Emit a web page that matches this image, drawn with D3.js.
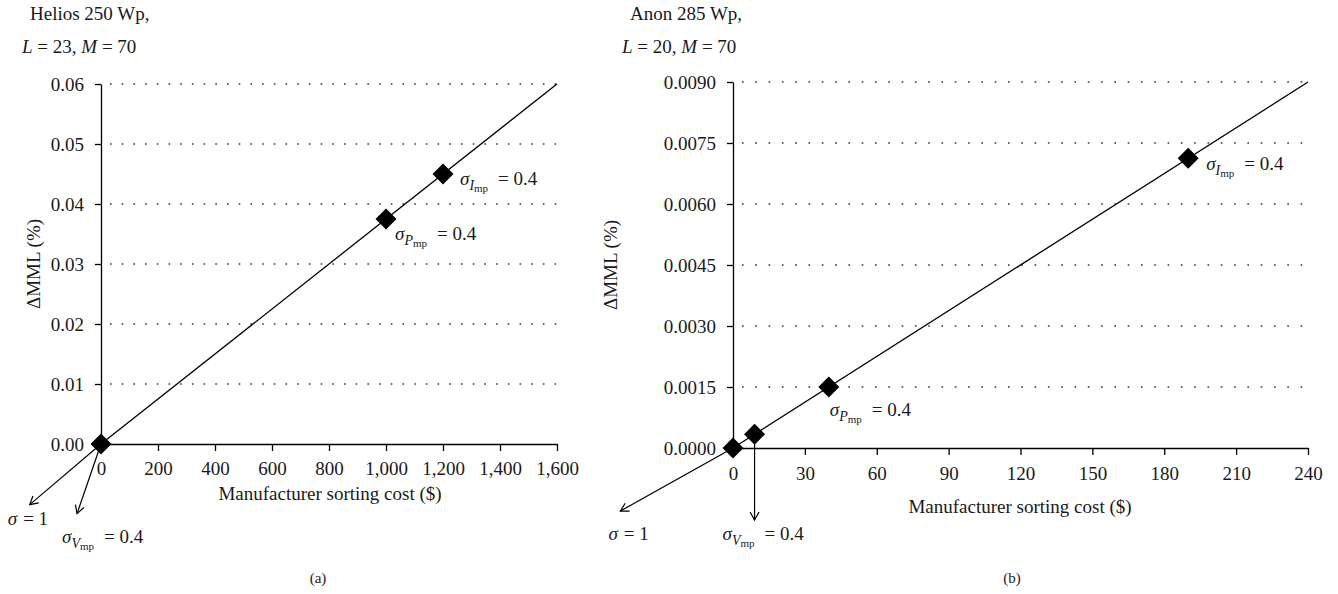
<!DOCTYPE html>
<html><head><meta charset="utf-8">
<script src="https://cdn.jsdelivr.net/npm/d3@7"></script>
<style>
body{margin:0;background:#fff}
svg{display:block}
text{font-family:"Liberation Serif","Times New Roman",serif;fill:#1a1a1a}
</style>
</head><body>
<svg id="c" width="1338" height="594"></svg>
<script>
// ---------- data ----------
const panelTitles = ["Helios 250 Wp,", "Anon 285 Wp,"];
const panelL = [23, 20];
const panelM = [70, 70];
const panelTags = ["(a)", "(b)"];
const xAxisTitle = "Manufacturer sorting cost ($)";
const yAxisTitle = "ΔMML (%)";

const xTicksA = [0, 200, 400, 600, 800, 1000, 1200, 1400, 1600];
const yTicksA = [0, 0.01, 0.02, 0.03, 0.04, 0.05, 0.06];
const xTicksB = [0, 30, 60, 90, 120, 150, 180, 210, 240];
const yTicksB = [0, 0.0015, 0.003, 0.0045, 0.006, 0.0075, 0.009];

const costA = [0, 1000, 1200];
const mmlA = [0, 0.0375, 0.045];
const costB = [0, 9, 40, 190];
const mmlB = [0, 0.0003375, 0.0015, 0.007125];

const lineCostA = [0, 1600];
const lineMmlA = [0, 0.06];
const lineCostB = [0, 240];
const lineMmlB = [0, 0.009];

// arrows start at a point index and end at a tip
const arrowFromA = [0, 0];
const arrowTipCostA = [-250, -84];
const arrowTipMmlA = [-0.0101, -0.0116];
const arrowSubA = [null, "V"];
const arrowValA = ["1", "0.4"];

const arrowFromB = [0, 1];
const arrowTipCostB = [-47, 9];
const arrowTipMmlB = [-0.00155, -0.00177];
const arrowSubB = [null, "V"];
const arrowValB = ["1", "0.4"];

// point annotations
const annotPointA = [2, 1];
const annotSubA = ["I", "P"];
const annotValA = ["0.4", "0.4"];
const annotPointB = [3, 2];
const annotSubB = ["I", "P"];
const annotValB = ["0.4", "0.4"];

// ---------- drawing ----------
const svg = d3.select("#c");
const defs = svg.append("defs");
defs.append("marker").attr("id", "arr")
  .attr("viewBox", "-10 -6 12 12").attr("refX", 0).attr("refY", 0)
  .attr("markerWidth", 12).attr("markerHeight", 12)
  .attr("markerUnits", "userSpaceOnUse").attr("orient", "auto")
  .append("path").attr("d", "M-8,-4.5 L0,0 L-8,4.5")
  .attr("fill", "none").attr("stroke", "#000").attr("stroke-width", 1.2);

function sigmaLabel(g, x, y, sub, val) {
  const t = g.append("text").attr("x", x).attr("y", y).attr("font-size", 19);
  t.append("tspan").attr("font-style", "italic").text("σ");
  if (sub) {
    t.append("tspan").attr("font-style", "italic").attr("font-size", 14).attr("dy", 5).text(sub);
    t.append("tspan").attr("font-size", 11).attr("dy", 2).text("mp");
    t.append("tspan").attr("dy", -7).attr("dx", 10).text("= " + val);
  } else {
    t.append("tspan").attr("dx", 6).text("= " + val);
  }
}

function panel(cfg) {
  const g = svg.append("g");
  const x = d3.scaleLinear().domain(cfg.xDomain).range(cfg.xRange);
  const y = d3.scaleLinear().domain(cfg.yDomain).range(cfg.yRange);

  // gridlines
  g.append("g").selectAll("line").data(cfg.yTicks.filter(d => d > 0)).join("line")
    .attr("x1", cfg.xRange[0] + 9).attr("x2", cfg.xRange[1])
    .attr("y1", d => y(d)).attr("y2", d => y(d))
    .attr("stroke", "#333").attr("stroke-width", 1.4)
    .attr("stroke-dasharray", cfg.dash);

  // axes
  const ya = g.append("g").attr("transform", `translate(${cfg.xRange[0]},0)`)
    .call(d3.axisLeft(y).tickValues(cfg.yTicks).tickFormat(cfg.yFmt)
      .tickSize(6).tickSizeOuter(0).tickPadding(cfg.yPad));
  const xa = g.append("g").attr("transform", `translate(0,${cfg.yRange[0]})`)
    .call(d3.axisBottom(x).tickValues(cfg.xTicks).tickFormat(d3.format(","))
      .tickSize(7).tickSizeOuter(0).tickPadding(cfg.xPad));
  [ya, xa].forEach(a => {
    a.attr("font-family", null).attr("font-size", null);
    a.selectAll("path,line").attr("stroke", "#000").attr("stroke-width", 1.3);
    a.selectAll("text").attr("font-size", 19).attr("fill", "#1a1a1a");
  });

  // main line
  g.append("path")
    .datum(cfg.lineCost.map((c, i) => [c, cfg.lineMml[i]]))
    .attr("d", d3.line().x(d => x(d[0])).y(d => y(d[1])))
    .attr("stroke", "#000").attr("stroke-width", 1.3).attr("fill", "none");

  // arrows
  cfg.arrowFrom.forEach((pi, i) => {
    g.append("line")
      .attr("x1", x(cfg.cost[pi])).attr("y1", y(cfg.mml[pi]))
      .attr("x2", x(cfg.arrowTipCost[i])).attr("y2", y(cfg.arrowTipMml[i]))
      .attr("stroke", "#000").attr("stroke-width", 1.2).attr("marker-end", "url(#arr)");
    const off = cfg.arrowLabelOff[i];
    sigmaLabel(g, x(cfg.arrowTipCost[i]) + off[0], y(cfg.arrowTipMml[i]) + off[1], cfg.arrowSub[i], cfg.arrowVal[i]);
  });

  // diamonds
  g.append("g").selectAll("path").data(cfg.cost.map((c, i) => [c, cfg.mml[i]])).join("path")
    .attr("transform", d => `translate(${x(d[0])},${y(d[1])})`)
    .attr("d", "M0,-10.5 L10.5,0 L0,10.5 L-10.5,0 Z")
    .attr("fill", "#000");

  // annotations
  cfg.annotPoint.forEach((pi, i) => {
    const off = cfg.annotOff[i];
    sigmaLabel(g, x(cfg.cost[pi]) + off[0], y(cfg.mml[pi]) + off[1], cfg.annotSub[i], cfg.annotVal[i]);
  });

  // titles
  g.append("text").attr("x", cfg.titleX).attr("y", 20).attr("font-size", 19).text(cfg.title);
  const t2 = g.append("text").attr("x", cfg.title2X).attr("y", 53).attr("font-size", 19);
  t2.append("tspan").attr("font-style", "italic").text("L");
  t2.append("tspan").text(" = " + cfg.L + ", ");
  t2.append("tspan").attr("font-style", "italic").text("M");
  t2.append("tspan").text(" = " + cfg.M);

  g.append("text").attr("x", cfg.xTitleX).attr("y", cfg.xTitleY).attr("text-anchor", "middle")
    .attr("font-size", 19).text(xAxisTitle);
  g.append("text").attr("transform", `translate(${cfg.yTitleX},${cfg.yTitleY}) rotate(-90)`)
    .attr("text-anchor", "middle").attr("font-size", 19).text(yAxisTitle);
  g.append("text").attr("x", cfg.tagX).attr("y", 583).attr("text-anchor", "middle")
    .attr("font-size", 15).text(cfg.tag);
}

panel({
  xDomain: [0, 1600], xRange: [101, 557], yDomain: [0, 0.06], yRange: [444, 84],
  xTicks: xTicksA, yTicks: yTicksA, yFmt: d3.format(".2f"), yPad: 11, xPad: 11,
  dash: "1.6,10.1",
  cost: costA, mml: mmlA, lineCost: lineCostA, lineMml: lineMmlA,
  arrowFrom: arrowFromA, arrowTipCost: arrowTipCostA, arrowTipMml: arrowTipMmlA,
  arrowSub: arrowSubA, arrowVal: arrowValA, arrowLabelOff: [[-22, 20], [-15, 29]],
  annotPoint: annotPointA, annotSub: annotSubA, annotVal: annotValA,
  annotOff: [[17, 11], [9, 21]],
  title: panelTitles[0], titleX: 30, title2X: 22, L: panelL[0], M: panelM[0],
  xTitleX: 330, xTitleY: 500, yTitleX: 40, yTitleY: 264, tag: panelTags[0], tagX: 318
});

panel({
  xDomain: [0, 240], xRange: [733, 1308], yDomain: [0, 0.009], yRange: [448, 82],
  xTicks: xTicksB, yTicks: yTicksB, yFmt: d3.format(".4f"), yPad: 11, xPad: 12,
  dash: "1.6,11.7",
  cost: costB, mml: mmlB, lineCost: lineCostB, lineMml: lineMmlB,
  arrowFrom: arrowFromB, arrowTipCost: arrowTipCostB, arrowTipMml: arrowTipMmlB,
  arrowSub: arrowSubB, arrowVal: arrowValB, arrowLabelOff: [[-12, 29], [-32, 20]],
  annotPoint: annotPointB, annotSub: annotSubB, annotVal: annotValB,
  annotOff: [[18, 12], [1, 29]],
  title: panelTitles[1], titleX: 630, title2X: 622, L: panelL[1], M: panelM[1],
  xTitleX: 1020, xTitleY: 513, yTitleX: 617, yTitleY: 265, tag: panelTags[1], tagX: 1012
});
</script>
</body></html>
